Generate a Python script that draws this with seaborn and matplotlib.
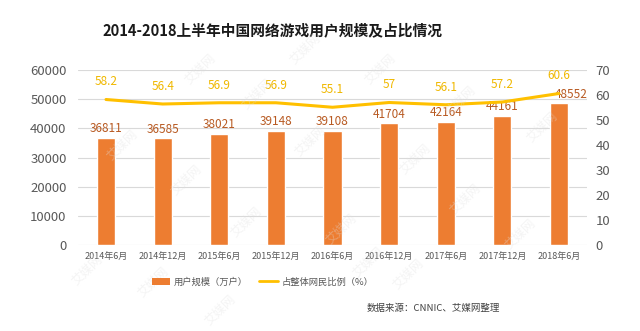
import matplotlib
matplotlib.use("Agg")
import matplotlib.pyplot as plt
import seaborn as sns
import pandas as pd
from matplotlib.patches import Patch
from matplotlib.lines import Line2D

periods = ["2014年6月", "2014年12月", "2015年6月", "2015年12月", "2016年6月",
           "2016年12月", "2017年6月", "2017年12月", "2018年6月"]
users = [36811, 36585, 38021, 39148, 39108, 41704, 42164, 44161, 48552]
share = [58.2, 56.4, 56.9, 56.9, 55.1, 57, 56.1, 57.2, 60.6]
left_ticks = [0, 10000, 20000, 30000, 40000, 50000, 60000]
right_ticks = [0, 10, 20, 30, 40, 50, 60, 70]

title = "2014-2018上半年中国网络游戏用户规模及占比情况"
bar_name = "用户规模（万户）"
line_name = "占整体网民比例（%）"
source = "数据来源：CNNIC、艾媒网整理"
mark = "艾媒网"

sns.set_theme(style="white")
plt.rcParams["font.family"] = ["Noto Sans CJK SC", "DejaVu Sans"]

BAR = "#ED7D31"
BAR_TXT = "#B85A22"
LINE = "#FFC000"
GRID = "#D9D9D9"
TICK = "#595959"

df = pd.DataFrame({"period": periods, "users": users, "share": share})
df["pos"] = range(len(df))

fig = plt.figure(figsize=(6.4, 3.31), dpi=100)
ax = fig.add_axes([0.1214, 0.2598, 0.7963, 0.5287])

sns.barplot(data=df, x="period", y="users", color=BAR, width=0.32,
            saturation=1, ax=ax, zorder=2)
ax.set_ylim(0, 60000)
ax.set_yticks(left_ticks)
ax.set_xlim(-0.5, len(periods) - 0.5)
ax.yaxis.grid(True, color=GRID, linewidth=0.8, zorder=0)
ax.set_axisbelow(True)
for s in ax.spines.values():
    s.set_visible(False)
ax.set_xlabel("")
ax.set_ylabel("")
ax.tick_params(axis="y", labelsize=9.5, labelcolor=TICK, length=0, pad=8)
ax.tick_params(axis="x", labelsize=6.5, labelcolor=TICK, length=0, pad=5)

ax2 = ax.twinx()
sns.lineplot(data=df, x="pos", y="share", color=LINE, linewidth=2.2,
             ax=ax2, zorder=3)
ax2.set_ylim(0, 70)
ax2.set_yticks(right_ticks)
ax2.set_xlim(-0.5, len(periods) - 0.5)
for s in ax2.spines.values():
    s.set_visible(False)
ax2.set_ylabel("")
ax2.set_xlabel("")
ax2.tick_params(axis="y", labelsize=9.5, labelcolor=TICK, length=0, pad=6)
ax2.grid(False)

for i, v in enumerate(users):
    dx = 0.22 if i == len(users) - 1 else 0
    ax.annotate(f"{v}", (i + dx, v), xytext=(0, 2), textcoords="offset points",
                ha="center", va="bottom", fontsize=8.5, color=BAR_TXT, zorder=4)
for i, v in enumerate(share):
    ax2.annotate(f"{v:g}", (i, v), xytext=(0, 8), textcoords="offset points",
                 ha="center", va="bottom", fontsize=8.5, color="#F0B800", zorder=4)

fig.text(0.425, 0.91, title, ha="center", va="center", fontsize=10.6,
         fontweight="bold", color="#1a1a1a")

handles = [Patch(facecolor=BAR, edgecolor="none"),
           Line2D([0], [0], color=LINE, linewidth=2)]
fig.legend(handles, [bar_name, line_name], loc="center",
           bbox_to_anchor=(0.41, 0.148), ncol=2, frameon=False,
           fontsize=6.7, handlelength=2.0, handleheight=0.9,
           columnspacing=1.2, handletextpad=0.4, labelcolor=TICK)

fig.text(0.782, 0.07, source, ha="right", va="center", fontsize=6.8,
         color="#404040")

for x, y in [(200, 70), (257, 95), (122, 146), (186, 181), (246, 223),
             (310, 142), (380, 70), (460, 102), (415, 160), (542, 128),
             (465, 200), (341, 230), (87, 271), (153, 283), (220, 311),
             (368, 263), (408, 275), (305, 50), (520, 235)]:
    fig.text(x / 640, 1 - y / 331, mark, rotation=45, ha="center",
             va="center", fontsize=9, color="#e0e0e0", alpha=0.35, zorder=5)

fig.savefig("out.png", dpi=100)
